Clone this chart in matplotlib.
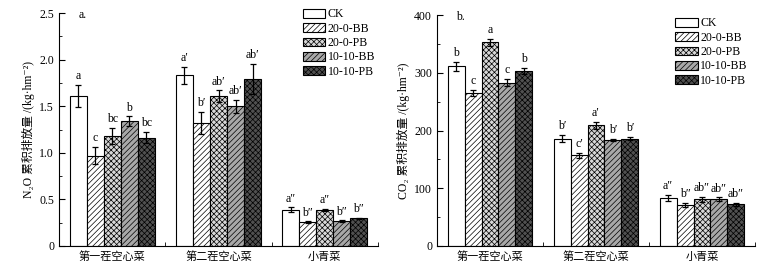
import numpy as np
import matplotlib
matplotlib.use('Agg')
import matplotlib.pyplot as plt
from matplotlib.ticker import FixedLocator, MultipleLocator

plt.rcParams['font.family'] = ['Liberation Serif', 'DejaVu Serif', 'Noto Sans CJK SC']
plt.rcParams['hatch.linewidth'] = 0.5
plt.rcParams['font.size'] = 8

groups = ['第一茬空心菜', '第二茬空心菜', '小青菜']
treatments = ['CK', '20-0-BB', '20-0-PB', '10-10-BB', '10-10-PB']

# N2O cumulative emission (kg/hm2), one list per treatment across groups
n2o_ck = [1.61, 1.83, 0.39]
n2o_20bb = [0.97, 1.32, 0.255]
n2o_20pb = [1.18, 1.61, 0.385]
n2o_10bb = [1.34, 1.50, 0.265]
n2o_10pb = [1.16, 1.79, 0.30]
n2o_err_ck = [0.12, 0.09, 0.025]
n2o_err_20bb = [0.09, 0.12, 0.01]
n2o_err_20pb = [0.09, 0.06, 0.01]
n2o_err_10bb = [0.05, 0.07, 0.01]
n2o_err_10pb = [0.06, 0.16, 0.005]
n2o_sig = [['a', 'c', 'bc', 'b', 'bc'],
           ['a′', 'b′', 'ab′', 'ab′', 'ab′'],
           ['a″', 'b″', 'a″', 'b″', 'b″']]

# CO2 cumulative emission (kg/hm2)
co2_ck = [311, 186, 83]
co2_20bb = [265, 157, 71]
co2_20pb = [353, 209, 81]
co2_10bb = [283, 184, 81]
co2_10pb = [303, 186, 72]
co2_err_ck = [8, 6, 5]
co2_err_20bb = [5, 4, 4]
co2_err_20pb = [6, 6, 4]
co2_err_10bb = [6, 2, 3]
co2_err_10pb = [5, 3, 2]
co2_sig = [['b', 'c', 'a', 'c', 'b'],
           ['b′', 'c′', 'a′', 'b′', 'b′'],
           ['a″', 'b″', 'ab″', 'ab″', 'ab″']]

styles = [dict(facecolor='white', hatch=None),
          dict(facecolor='white', hatch='//////'),
          dict(facecolor='#d8d8d8', hatch='xxxxxx'),
          dict(facecolor='#a8a8a8', hatch='//////'),
          dict(facecolor='#505050', hatch='xxxxxx')]


def draw(ax, vals, errs, sig, ylim, ystep, yminor, ylabel, tag, fmt):
    x = np.arange(len(groups))
    w = 0.16
    for i, (v, e) in enumerate(zip(vals, errs)):
        pos = x + (i - 2) * w
        ax.bar(pos, v, w, edgecolor='black', linewidth=0.8,
               label=treatments[i], **styles[i])
        ax.errorbar(pos, v, yerr=e, fmt='none', ecolor='black',
                    elinewidth=0.9, capsize=2.5, capthick=0.9)
        for j in range(len(groups)):
            ax.text(pos[j], v[j] + e[j] + ylim * 0.012, sig[j][i],
                    ha='center', va='bottom', fontsize=8.5)
    ax.set_xlim(-0.5, 2.5)
    ax.set_ylim(0, ylim)
    ax.set_xticks(x)
    ax.set_xticklabels(groups, fontsize=8)
    ax.xaxis.set_minor_locator(FixedLocator([0.5, 1.5, 2.5]))
    ax.tick_params(axis='x', which='major', length=0, pad=4)
    ax.tick_params(axis='x', which='minor', direction='in', length=3)
    ax.yaxis.set_major_locator(MultipleLocator(ystep))
    ax.yaxis.set_minor_locator(MultipleLocator(yminor))
    ax.yaxis.set_major_formatter(plt.FuncFormatter(fmt))
    ax.tick_params(axis='y', which='major', direction='in', length=4, labelsize=8.5)
    ax.tick_params(axis='y', which='minor', direction='in', length=2)
    ax.spines['top'].set_visible(False)
    ax.spines['right'].set_visible(False)
    ax.set_ylabel(ylabel, fontsize=8.5, labelpad=3)
    ax.text(0.06, 0.99, tag, transform=ax.transAxes, fontsize=8.5, va='center')


fig = plt.figure(figsize=(7.67, 2.69), dpi=100)
ax1 = fig.add_axes([59 / 767, 23 / 269, 319 / 767, 233 / 269])
ax2 = fig.add_axes([437 / 767, 23 / 269, 318 / 767, 231 / 269])

draw(ax1, [n2o_ck, n2o_20bb, n2o_20pb, n2o_10bb, n2o_10pb],
     [n2o_err_ck, n2o_err_20bb, n2o_err_20pb, n2o_err_10bb, n2o_err_10pb],
     n2o_sig, 2.5, 0.5, 0.25,
     'N₂O 累积排放量 /(kg·hm⁻²)', 'a.',
     lambda v, p: '0' if v == 0 else f'{v:.1f}')
draw(ax2, [co2_ck, co2_20bb, co2_20pb, co2_10bb, co2_10pb],
     [co2_err_ck, co2_err_20bb, co2_err_20pb, co2_err_10bb, co2_err_10pb],
     co2_sig, 400, 100, 50,
     'CO₂ 累积排放量 /(kg·hm⁻²)', 'b.',
     lambda v, p: f'{v:.0f}')

for ax, anchor in [(ax1, (0.75, 1.04)), (ax2, (0.735, 1.01))]:
    ax.legend(loc='upper left', bbox_to_anchor=anchor, frameon=False,
              fontsize=8.5, handlelength=1.9, handleheight=0.75,
              handletextpad=0.2, labelspacing=0.2, borderaxespad=0)

fig.savefig('out.png', dpi=100)
